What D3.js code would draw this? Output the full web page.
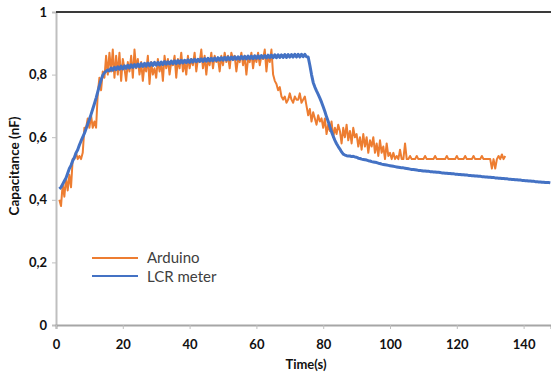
<!DOCTYPE html>
<html>
<head>
<meta charset="utf-8">
<script src="https://cdn.jsdelivr.net/npm/d3@7"></script>
<style>
  body { margin: 0; background: #fff; }
  svg { display: block; font-family: Lato, "Open Sans", sans-serif; }
</style>
</head>
<body>
<svg></svg>
<script>
// sample period of both recordings (s), first sample at t = 1 s
const sampleStart = 1;
const sampleStep = 0.5;

// Arduino readings (nF), one every 0.5 s from t = 1 s
const arduino = [
  0.40, 0.38, 0.45, 0.41, 0.47, 0.43, 0.48, 0.44, 0.53, 0.53, 0.55, 0.53, 0.54, 0.53, 0.55, 0.63, 0.63, 0.66, 0.63, 0.67,
  0.63, 0.65, 0.63, 0.74, 0.79, 0.75, 0.81, 0.79, 0.86, 0.80, 0.87, 0.81, 0.88, 0.79, 0.86, 0.80, 0.87, 0.78, 0.85, 0.82,
  0.78, 0.84, 0.81, 0.86, 0.79, 0.88, 0.82, 0.85, 0.80, 0.84, 0.78, 0.83, 0.81, 0.86, 0.77, 0.84, 0.80, 0.82, 0.79, 0.85,
  0.81, 0.84, 0.78, 0.86, 0.82, 0.85, 0.80, 0.84, 0.83, 0.86, 0.79, 0.85, 0.82, 0.87, 0.81, 0.84, 0.80, 0.86, 0.82, 0.85,
  0.83, 0.87, 0.81, 0.85, 0.84, 0.88, 0.82, 0.86, 0.80, 0.85, 0.83, 0.87, 0.82, 0.86, 0.84, 0.85, 0.81, 0.86, 0.83, 0.87,
  0.84, 0.86, 0.82, 0.87, 0.85, 0.86, 0.81, 0.85, 0.84, 0.87, 0.83, 0.86, 0.80, 0.85, 0.84, 0.87, 0.82, 0.86, 0.84, 0.87,
  0.83, 0.86, 0.85, 0.88, 0.81, 0.86, 0.84, 0.88, 0.80, 0.78, 0.77, 0.75, 0.76, 0.73, 0.72, 0.73, 0.71, 0.72, 0.74, 0.72,
  0.71, 0.73, 0.72, 0.72, 0.74, 0.71, 0.72, 0.73, 0.70, 0.67, 0.69, 0.65, 0.68, 0.66, 0.64, 0.67, 0.65, 0.66, 0.63, 0.66,
  0.61, 0.64, 0.62, 0.65, 0.60, 0.63, 0.61, 0.64, 0.62, 0.58, 0.63, 0.60, 0.64, 0.59, 0.62, 0.58, 0.63, 0.60, 0.61, 0.57,
  0.60, 0.56, 0.61, 0.57, 0.60, 0.55, 0.59, 0.57, 0.60, 0.55, 0.58, 0.54, 0.59, 0.55, 0.57, 0.53, 0.58, 0.54, 0.55, 0.53,
  0.55, 0.53, 0.54, 0.53, 0.56, 0.53, 0.53, 0.58, 0.53, 0.53, 0.54, 0.53, 0.53, 0.53, 0.54, 0.53, 0.53, 0.53, 0.53, 0.54,
  0.53, 0.53, 0.53, 0.53, 0.53, 0.54, 0.53, 0.53, 0.53, 0.53, 0.53, 0.53, 0.54, 0.53, 0.53, 0.53, 0.53, 0.53, 0.54, 0.53,
  0.53, 0.53, 0.53, 0.54, 0.53, 0.53, 0.53, 0.53, 0.54, 0.53, 0.53, 0.53, 0.53, 0.54, 0.53, 0.53, 0.53, 0.53, 0.53, 0.50,
  0.53, 0.50, 0.53, 0.54, 0.53, 0.545, 0.53, 0.54
];

// LCR meter readings (nF), one every 0.5 s from t = 1 s
const lcr = [
  0.435, 0.440, 0.450, 0.460, 0.470, 0.485, 0.500, 0.510, 0.525, 0.535, 0.550, 0.560, 0.575, 0.588, 0.600, 0.612, 0.627, 0.642, 0.657, 0.673,
  0.690, 0.707, 0.725, 0.745, 0.765, 0.783, 0.798, 0.806, 0.811, 0.815, 0.812, 0.821, 0.814, 0.823, 0.816, 0.825, 0.817, 0.827, 0.818, 0.828,
  0.820, 0.830, 0.821, 0.831, 0.823, 0.832, 0.824, 0.834, 0.825, 0.835, 0.826, 0.836, 0.827, 0.837, 0.828, 0.838, 0.829, 0.839, 0.830, 0.839,
  0.831, 0.840, 0.832, 0.842, 0.833, 0.841, 0.834, 0.843, 0.835, 0.844, 0.835, 0.845, 0.836, 0.846, 0.837, 0.846, 0.838, 0.847, 0.839, 0.848,
  0.840, 0.849, 0.841, 0.849, 0.842, 0.850, 0.842, 0.851, 0.843, 0.852, 0.844, 0.852, 0.844, 0.853, 0.845, 0.854, 0.846, 0.854, 0.846, 0.855,
  0.847, 0.856, 0.848, 0.856, 0.848, 0.857, 0.849, 0.857, 0.849, 0.858, 0.850, 0.858, 0.850, 0.859, 0.851, 0.859, 0.851, 0.860, 0.852, 0.860,
  0.852, 0.861, 0.853, 0.861, 0.853, 0.862, 0.854, 0.862, 0.854, 0.863, 0.854, 0.863, 0.855, 0.863, 0.855, 0.864, 0.855, 0.864, 0.856, 0.864,
  0.856, 0.865, 0.856, 0.865, 0.856, 0.865, 0.857, 0.865, 0.857, 0.856, 0.830, 0.800, 0.775, 0.760, 0.748, 0.737, 0.725, 0.712, 0.697, 0.682,
  0.665, 0.650, 0.633, 0.617, 0.603, 0.590, 0.579, 0.570, 0.562, 0.553, 0.546, 0.543, 0.541, 0.540, 0.540, 0.538, 0.539, 0.537, 0.536, 0.533,
  0.532, 0.530, 0.529, 0.528, 0.527, 0.525, 0.524, 0.522, 0.521, 0.520, 0.519, 0.517, 0.516, 0.514, 0.513, 0.512, 0.511, 0.510, 0.509, 0.508,
  0.507, 0.506, 0.505, 0.504, 0.503, 0.502, 0.502, 0.501, 0.500, 0.499, 0.498, 0.497, 0.497, 0.496, 0.495, 0.494, 0.494, 0.493, 0.492, 0.492,
  0.491, 0.491, 0.490, 0.490, 0.489, 0.489, 0.488, 0.488, 0.487, 0.486, 0.486, 0.485, 0.485, 0.484, 0.484, 0.483, 0.483, 0.482, 0.482, 0.481,
  0.481, 0.480, 0.480, 0.479, 0.479, 0.478, 0.478, 0.477, 0.477, 0.476, 0.476, 0.475, 0.475, 0.474, 0.474, 0.473, 0.473, 0.472, 0.472, 0.471,
  0.471, 0.470, 0.470, 0.469, 0.469, 0.468, 0.468, 0.467, 0.467, 0.466, 0.466, 0.465, 0.465, 0.464, 0.464, 0.463, 0.463, 0.462, 0.462, 0.461,
  0.461, 0.460, 0.460, 0.459, 0.459, 0.458, 0.458, 0.457, 0.457, 0.456, 0.456, 0.455, 0.455, 0.455, 0.454
];

const xTicks = [0, 20, 40, 60, 80, 100, 120, 140];
const yTicks = [0, 0.2, 0.4, 0.6, 0.8, 1];
const seriesNames = ["Arduino", "LCR meter"];
const seriesColors = ["#ED7D31", "#4472C4"];

var w = 551;
var h = 374;

let svg = d3.select("svg")
  .attr("width", w)
  .attr("height", h);

let xScale = d3.scaleLinear()
  .domain([0, 148.2])
  .range([56, 551]);
let yScale = d3.scaleLinear()
  .domain([0, 1])
  .range([325, 12]);

function toPoints(values){
  return values.map(function(v, i){
    return { t: sampleStart + i * sampleStep, v: v };
  });
}

// y axis (left) with comma decimals
let yAxis = d3.axisLeft(yScale)
  .tickValues(yTicks)
  .tickSize(4)
  .tickPadding(5)
  .tickFormat(function(d){ return String(d).replace(".", ","); });
let yAxisG = svg.append("g")
  .attr("transform", "translate(56,0)")
  .call(yAxis);
yAxisG.select(".domain").attr("stroke", "#BFBFBF").attr("stroke-width", 2);
yAxisG.selectAll(".tick line").attr("stroke", "#BFBFBF");

let xAxis = d3.axisBottom(xScale)
  .tickValues(xTicks)
  .tickSize(4)
  .tickPadding(11);
let xAxisG = svg.append("g")
  .attr("transform", "translate(0,325)")
  .call(xAxis);
xAxisG.select(".domain").attr("stroke", "#A6A6A6").attr("stroke-width", 2);
xAxisG.selectAll(".tick line").attr("stroke", "#BFBFBF");

svg.selectAll(".tick text")
  .style("font-family", "Lato, sans-serif")
  .style("font-size", "13px")
  .style("font-weight", "bold")
  .attr("fill", "#111");

// top border of the plot area
svg.append("line")
  .attr("x1", 56).attr("x2", 551)
  .attr("y1", 12).attr("y2", 12)
  .attr("stroke", "#3a3a3a")
  .attr("stroke-width", 2);

let line = d3.line()
  .x(function(d){ return xScale(d.t); })
  .y(function(d){ return yScale(d.v); });

svg.append("path")
  .datum(toPoints(arduino))
  .attr("d", line)
  .attr("fill", "none")
  .attr("stroke", seriesColors[0])
  .attr("stroke-width", 2)
  .attr("stroke-linejoin", "round");

svg.append("path")
  .datum(toPoints(lcr))
  .attr("d", line)
  .attr("fill", "none")
  .attr("stroke", seriesColors[1])
  .attr("stroke-width", 3)
  .attr("stroke-linejoin", "round");

// legend
let legendG = svg.append("g");
seriesNames.forEach(function(name, i){
  legendG.append("line")
    .attr("x1", 92).attr("x2", 138)
    .attr("y1", 258 + i * 18).attr("y2", 258 + i * 18)
    .attr("stroke", seriesColors[i])
    .attr("stroke-width", 2);
  legendG.append("text")
    .attr("x", 147)
    .attr("y", 263 + i * 19)
    .style("font-size", "15px")
    .attr("fill", "#404040")
    .text(name);
});

// axis titles
svg.append("text")
  .attr("x", 306)
  .attr("y", 369)
  .attr("text-anchor", "middle")
  .style("font-size", "13px")
  .style("font-weight", "bold")
  .attr("fill", "#111")
  .text("Time(s)");

svg.append("text")
  .attr("transform", "translate(18.5,166)rotate(-90)")
  .attr("text-anchor", "middle")
  .style("font-size", "13.5px")
  .style("font-weight", "bold")
  .attr("fill", "#111")
  .text("Capacitance (nF)");
</script>
</body>
</html>
